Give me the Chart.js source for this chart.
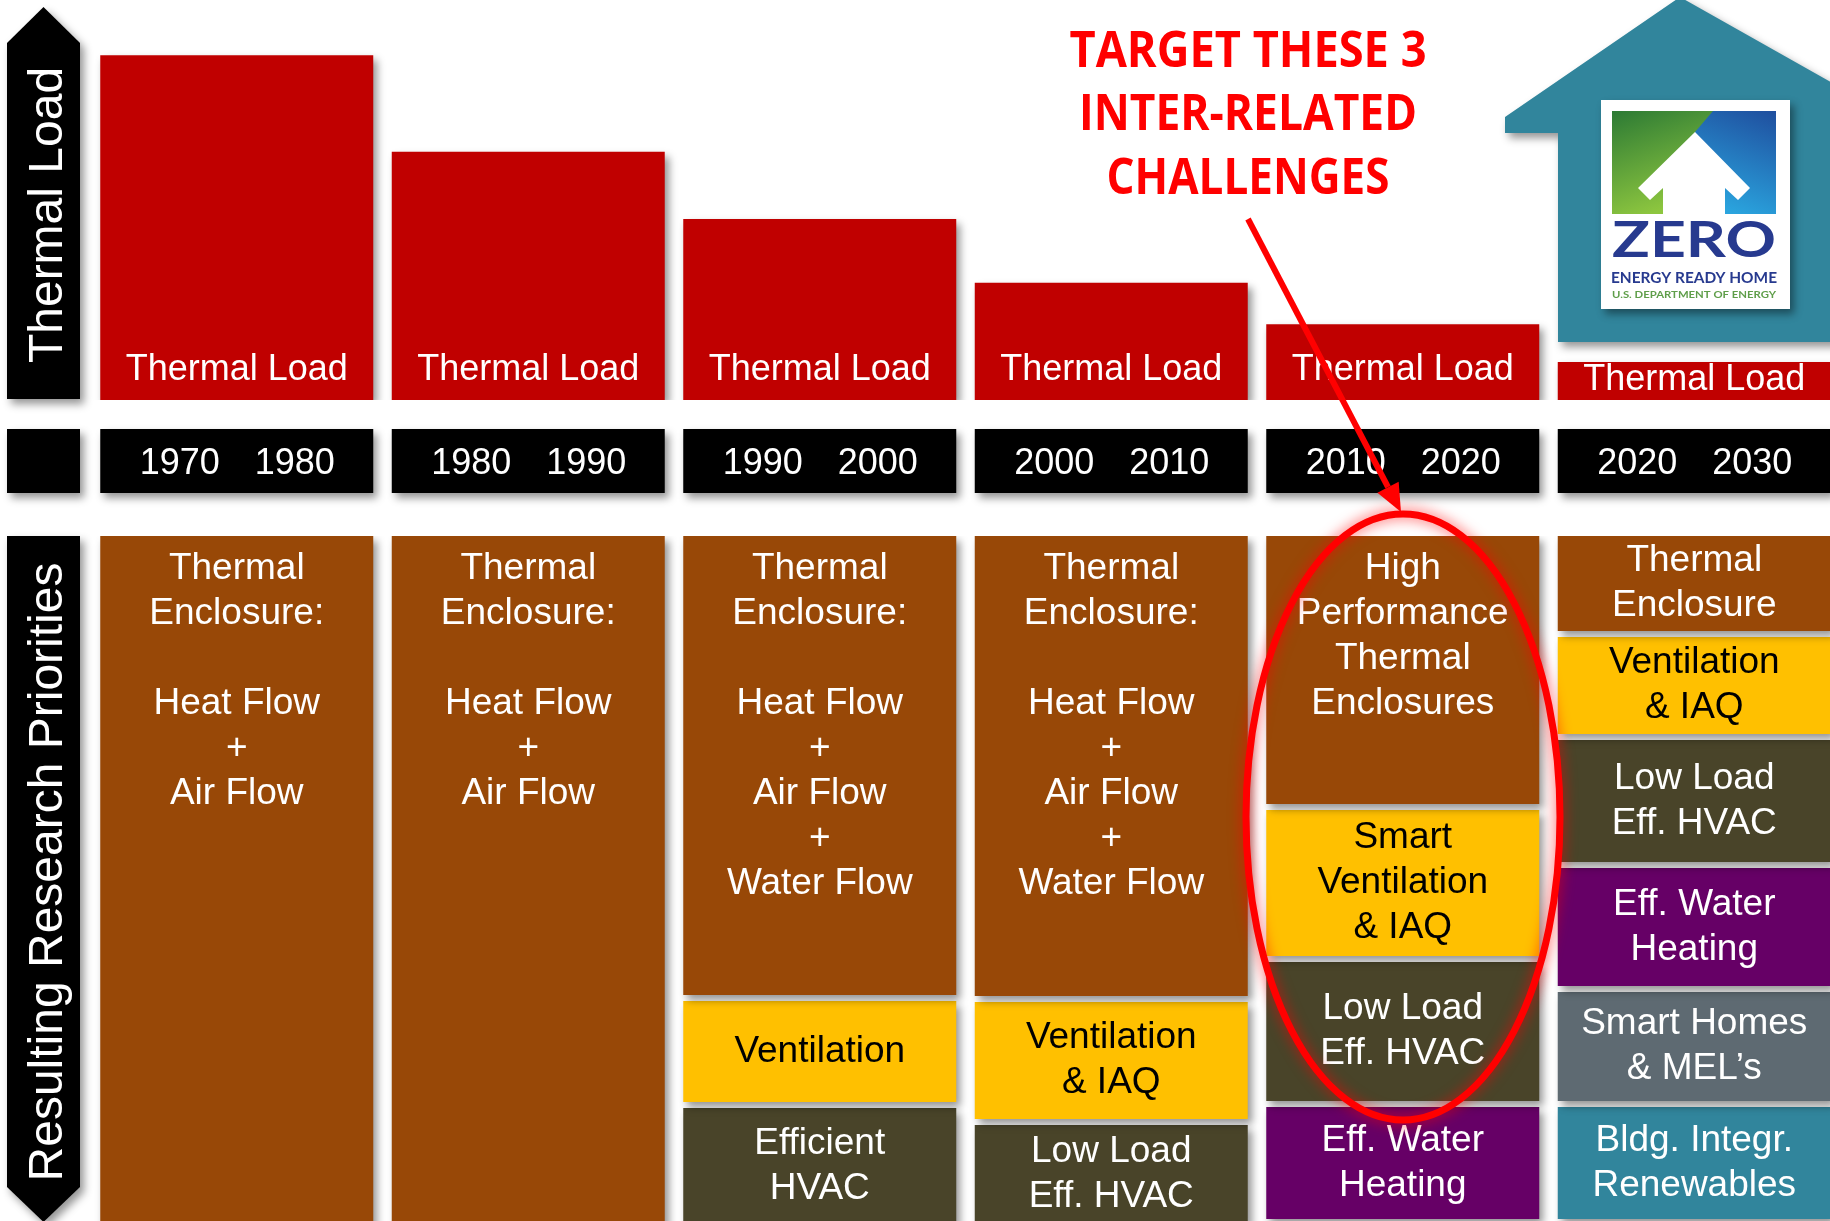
<!DOCTYPE html>
<html>
<head>
<meta charset="utf-8">
<title>Thermal Load and Resulting Research Priorities</title>
<script src="https://cdn.jsdelivr.net/npm/chart.js@4.4.1/dist/chart.umd.min.js"></script>
<style>
  html, body { margin: 0; padding: 0; background: #fff; overflow: hidden; width: 1830px; height: 1221px; }
  canvas { position: absolute; left: 0; top: 0; }
</style>
</head>
<body>
<canvas id="loadChart" width="1840" height="520"></canvas>
<canvas id="priorityChart" width="1840" height="1221"></canvas>
<script>
// Decades (one column each)
const decades = ['1970-1980', '1980-1990', '1990-2000', '2000-2010', '2010-2020', '2020-2030'];
const decadeStart = ['1970', '1980', '1990', '2000', '2010', '2020'];
const decadeEnd = ['1980', '1990', '2000', '2010', '2020', '2030'];

// Relative thermal load of a new home (1970s = 100)
const thermalLoad = [100, 72, 52.5, 34, 22, 11];

// Research priority blocks, depth of each block per decade
const enclosureDepth = [700, 700, 465, 466, 274, 101];
const ventilationDepth = [null, null, 107, 123, 152, 103];
const hvacDepth = [null, null, 122, 104, 145, 128];
const waterHeatingDepth = [null, null, null, null, 118, 124];
const smartHomeDepth = [null, null, null, null, null, 115];
const renewablesDepth = [null, null, null, null, null, 118];

const enclosureText = [
  'Thermal\nEnclosure:\n\nHeat Flow\n+\nAir Flow',
  'Thermal\nEnclosure:\n\nHeat Flow\n+\nAir Flow',
  'Thermal\nEnclosure:\n\nHeat Flow\n+\nAir Flow\n+\nWater Flow',
  'Thermal\nEnclosure:\n\nHeat Flow\n+\nAir Flow\n+\nWater Flow',
  'High\nPerformance\nThermal\nEnclosures',
  'Thermal\nEnclosure'
];
const ventilationText = [null, null, 'Ventilation', 'Ventilation\n& IAQ', 'Smart\nVentilation\n& IAQ', 'Ventilation\n& IAQ'];
const hvacText = [null, null, 'Efficient\nHVAC', 'Low Load\nEff. HVAC', 'Low Load\nEff. HVAC', 'Low Load\nEff. HVAC'];
const waterHeatingText = [null, null, null, null, 'Eff. Water\nHeating', 'Eff. Water\nHeating'];
const smartHomeText = [null, null, null, null, null, 'Smart Homes\n& MEL\u2019s'];
const renewablesText = [null, null, null, null, null, 'Bldg. Integr.\nRenewables'];

const calloutLines = ['TARGET THESE 3', 'INTER-RELATED', 'CHALLENGES'];

const FONT = '"Liberation Sans", Arial, sans-serif';
const GAP = 6;
const LINE_H = 45;

function setShadow(ctx, on) {
  ctx.shadowColor = on ? 'rgba(0,0,0,0.42)' : 'rgba(0,0,0,0)';
  ctx.shadowBlur = on ? 8 : 0;
  ctx.shadowOffsetX = on ? 4 : 0;
  ctx.shadowOffsetY = on ? 5 : 0;
}

// squeeze/stretch a line of text to a given width
function fitText(ctx, text, cx, y, width) {
  const w = ctx.measureText(text).width;
  ctx.save();
  ctx.translate(cx, y);
  ctx.scale(width / w, 1);
  ctx.fillText(text, 0, 0);
  ctx.restore();
}

// black side arrow with rotated caption
function drawSideArrow(ctx, top, bottom, pointUp, label, cy) {
  ctx.save();
  setShadow(ctx, true);
  ctx.fillStyle = '#000';
  ctx.beginPath();
  if (pointUp) {
    ctx.moveTo(7, bottom);
    ctx.lineTo(7, top + 36);
    ctx.lineTo(43.5, top);
    ctx.lineTo(80, top + 36);
    ctx.lineTo(80, bottom);
  } else {
    ctx.moveTo(7, top);
    ctx.lineTo(80, top);
    ctx.lineTo(80, bottom - 35);
    ctx.lineTo(43.5, bottom);
    ctx.lineTo(7, bottom - 35);
  }
  ctx.closePath();
  ctx.fill();
  setShadow(ctx, false);
  ctx.translate(62, cy);
  ctx.rotate(-Math.PI / 2);
  ctx.fillStyle = '#fff';
  ctx.font = '48px ' + FONT;
  ctx.textAlign = 'center';
  ctx.textBaseline = 'alphabetic';
  ctx.fillText(label, 0, 0);
  ctx.restore();
}

// Zero Energy Ready Home house badge
function drawHouse(ctx) {
  ctx.save();
  setShadow(ctx, true);
  ctx.fillStyle = '#31859C';
  ctx.beginPath();
  ctx.moveTo(1505, 117);
  ctx.lineTo(1680, -3);
  ctx.lineTo(1845, 90);
  ctx.lineTo(1845, 342);
  ctx.lineTo(1558, 342);
  ctx.lineTo(1558, 133);
  ctx.lineTo(1505, 133);
  ctx.closePath();
  ctx.fill();

  ctx.fillStyle = '#fff';
  ctx.fillRect(1601, 100, 189, 209);
  setShadow(ctx, false);

  // logo square
  const blue = ctx.createLinearGradient(1776, 111, 1735, 214);
  blue.addColorStop(0, '#1f4e9e');
  blue.addColorStop(1, '#2aa4de');
  ctx.fillStyle = blue;
  ctx.fillRect(1612, 111, 164, 103);
  const green = ctx.createLinearGradient(1612, 111, 1650, 214);
  green.addColorStop(0, '#2c7a34');
  green.addColorStop(1, '#8dc63f');
  ctx.fillStyle = green;
  ctx.beginPath();
  ctx.moveTo(1612, 111);
  ctx.lineTo(1713, 111);
  ctx.lineTo(1695, 132);
  ctx.lineTo(1680, 214);
  ctx.lineTo(1612, 214);
  ctx.closePath();
  ctx.fill();
  ctx.fillStyle = '#fff';
  ctx.beginPath();
  ctx.moveTo(1695, 132);
  ctx.lineTo(1750, 188);
  ctx.lineTo(1738, 200);
  ctx.lineTo(1725, 188);
  ctx.lineTo(1725, 214);
  ctx.lineTo(1663, 214);
  ctx.lineTo(1663, 188);
  ctx.lineTo(1650, 200);
  ctx.lineTo(1638, 188);
  ctx.closePath();
  ctx.fill();

  ctx.textAlign = 'center';
  ctx.textBaseline = 'alphabetic';
  ctx.fillStyle = '#273a8f';
  ctx.font = 'bold 49px Lato, sans-serif';
  fitText(ctx, 'ZERO', 1694, 257, 164);
  ctx.font = 'bold 15px Lato, sans-serif';
  fitText(ctx, 'ENERGY READY HOME', 1694, 283, 166);
  ctx.fillStyle = '#5f9e4a';
  ctx.font = 'bold 10px Lato, sans-serif';
  fitText(ctx, 'U.S. DEPARTMENT OF ENERGY', 1694, 298, 164);
  ctx.restore();
}

// red callout: text, arrow and ellipse
function drawCallout(ctx) {
  ctx.save();
  ctx.fillStyle = '#ff0000';
  ctx.font = 'bold 50px "Open Sans", sans-serif';
  ctx.textAlign = 'center';
  ctx.textBaseline = 'alphabetic';
  const widths = [357, 338, 283];
  const baselines = [67, 130, 194];
  calloutLines.forEach((line, i) => fitText(ctx, line, 1248, baselines[i], widths[i]));

  const x0 = 1248, y0 = 219, x1 = 1401, y1 = 512;
  const ang = Math.atan2(y1 - y0, x1 - x0);
  const headLen = 28, headW = 12;
  const bx = x1 - headLen * Math.cos(ang), by = y1 - headLen * Math.sin(ang);
  ctx.strokeStyle = '#ff0000';
  ctx.lineWidth = 6;
  ctx.beginPath();
  ctx.moveTo(x0, y0);
  ctx.lineTo(bx, by);
  ctx.stroke();
  ctx.beginPath();
  ctx.moveTo(x1, y1);
  ctx.lineTo(bx + headW * Math.sin(ang), by - headW * Math.cos(ang));
  ctx.lineTo(bx - headW * Math.sin(ang), by + headW * Math.cos(ang));
  ctx.closePath();
  ctx.fill();

  ctx.shadowColor = 'rgba(255,0,0,0.75)';
  ctx.shadowBlur = 14;
  ctx.lineWidth = 7;
  ctx.beginPath();
  ctx.ellipse(1403, 817, 157, 303, 0, 0, Math.PI * 2);
  ctx.stroke();
  ctx.restore();
}

const loadPlugin = {
  id: 'loadDecor',
  beforeDatasetsDraw(chart) { setShadow(chart.ctx, true); },
  afterDatasetsDraw(chart) {
    const ctx = chart.ctx;
    setShadow(ctx, false);
    const bars = chart.getDatasetMeta(0).data;
    ctx.save();
    // year row
    setShadow(ctx, true);
    ctx.fillStyle = '#000';
    ctx.fillRect(7, 429, 73, 64);
    bars.forEach(bar => ctx.fillRect(bar.x - bar.width / 2, 429, bar.width, 64));
    setShadow(ctx, false);
    ctx.fillStyle = '#fff';
    ctx.font = '36px ' + FONT;
    ctx.textAlign = 'center';
    ctx.textBaseline = 'alphabetic';
    bars.forEach((bar, i) => {
      ctx.fillText(decadeStart[i], bar.x - 57, 474);
      ctx.fillText(decadeEnd[i], bar.x + 58, 474);
      ctx.fillText('Thermal Load', bar.x, Math.max(bar.y + 28, bar.base - 20));
    });
    ctx.restore();
  },
  afterDraw(chart) {
    drawSideArrow(chart.ctx, 7, 399, true, 'Thermal Load', 215);
    drawHouse(chart.ctx);
  }
};

new Chart(document.getElementById('loadChart'), {
  type: 'bar',
  data: {
    labels: decades,
    datasets: [{
      label: 'Thermal Load',
      data: thermalLoad,
      backgroundColor: '#C00000',
      borderWidth: 0,
      barPercentage: 0.9365,
      categoryPercentage: 1
    }]
  },
  options: {
    responsive: false,
    animation: false,
    layout: { padding: { left: 91, right: 0, top: 0, bottom: 120 } },
    plugins: { legend: { display: false }, tooltip: { enabled: false } },
    scales: {
      x: { display: false },
      y: { display: false, min: 0, max: 116 }
    }
  },
  plugins: [loadPlugin]
});

// floating blocks stacked down from the top, built from the depth arrays
const priorityNames = ['Thermal Enclosure', 'Ventilation & IAQ', 'HVAC', 'Water Heating', 'Smart Homes & MELs', 'Renewables'];
const priorityDepths = [enclosureDepth, ventilationDepth, hvacDepth, waterHeatingDepth, smartHomeDepth, renewablesDepth];
const priorityTexts = [enclosureText, ventilationText, hvacText, waterHeatingText, smartHomeText, renewablesText];
const priorityColors = ['#984807', '#FFC000', '#494429', '#660066', '#5E6A72', '#31859C'];
const priorityTextColors = ['#fff', '#000', '#fff', '#fff', '#fff', '#fff'];

const running = decades.map(() => 0);
const priorityDatasets = priorityDepths.map((depths, k) => ({
  label: priorityNames[k],
  data: depths.map((d, j) => {
    if (d == null) return null;
    const start = running[j];
    running[j] += d;
    return [start, start + d - GAP];
  }),
  backgroundColor: priorityColors[k],
  borderWidth: 0,
  grouped: false,
  barPercentage: 0.9365,
  categoryPercentage: 1,
  texts: priorityTexts[k],
  textColor: priorityTextColors[k],
  textAlign: k === 0 ? 'top' : 'middle'
}));

const priorityPlugin = {
  id: 'priorityDecor',
  beforeDatasetsDraw(chart) { setShadow(chart.ctx, true); },
  afterDatasetsDraw(chart) {
    const ctx = chart.ctx;
    setShadow(ctx, false);
    ctx.save();
    ctx.font = '37px ' + FONT;
    ctx.textAlign = 'center';
    ctx.textBaseline = 'middle';
    chart.data.datasets.forEach((ds, k) => {
      chart.getDatasetMeta(k).data.forEach((bar, j) => {
        const txt = ds.texts[j];
        if (!txt) return;
        const top = Math.min(bar.y, bar.base);
        const bottom = Math.max(bar.y, bar.base);
        const lines = txt.split('\n');
        let first;
        if (ds.textAlign === 'top' && lines.length * LINE_H + 66 < bottom - top) {
          first = top + 33;
        } else {
          first = (top + bottom) / 2 - (lines.length - 1) * LINE_H / 2;
        }
        ctx.fillStyle = ds.textColor;
        lines.forEach((line, i) => ctx.fillText(line, bar.x, first + i * LINE_H));
      });
    });
    ctx.restore();
  },
  afterDraw(chart) {
    drawSideArrow(chart.ctx, 536, 1222, false, 'Resulting Research Priorities', 872);
    drawCallout(chart.ctx);
  }
};

new Chart(document.getElementById('priorityChart'), {
  type: 'bar',
  data: { labels: decades, datasets: priorityDatasets },
  options: {
    responsive: false,
    animation: false,
    layout: { padding: { left: 91, right: 0, top: 536, bottom: 0 } },
    plugins: { legend: { display: false }, tooltip: { enabled: false } },
    scales: {
      x: { display: false },
      y: { display: false, reverse: true, min: 0, max: 685 }
    }
  },
  plugins: [priorityPlugin]
});
</script>
</body>
</html>
